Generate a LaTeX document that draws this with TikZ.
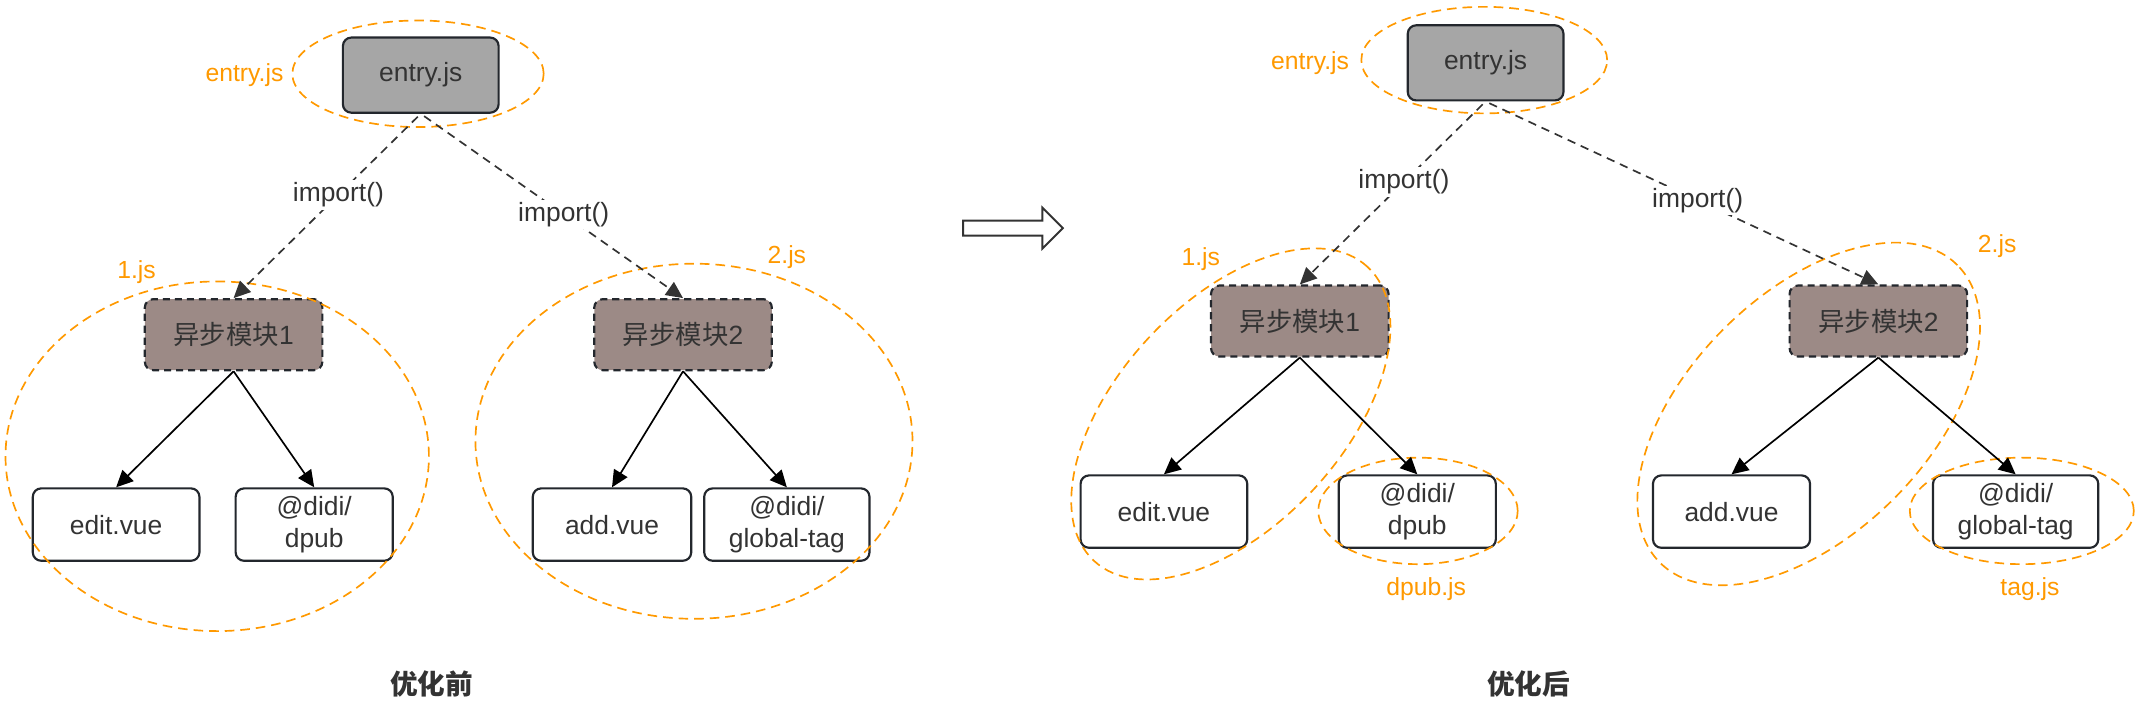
\documentclass[tikz,border=0pt]{standalone}
\usepackage{fontspec}
\setmainfont{Liberation Sans}
\newfontfamily\cjk{Noto Sans CJK SC}
\usetikzlibrary{arrows.meta}
\definecolor{jsorange}{HTML}{FF9900}
\definecolor{modfill}{HTML}{9C8A86}
\definecolor{entryfill}{HTML}{A6A6A6}
\definecolor{txt}{HTML}{333333}
\definecolor{edge}{HTML}{23272D}
\begin{document}
\begin{tikzpicture}[x=0.02cm,y=-0.02cm,>={Triangle[length=7pt,width=6.5pt]},
		box/.style={draw=edge,line width=0.9pt,rounded corners=3.5pt,text=txt,align=center,
			font=\fontsize{11}{13.5}\selectfont,inner sep=0pt,minimum height=1.06cm},
		entrybox/.style={box,fill=entryfill,minimum width=2.28cm,minimum height=1.1cm},
		modbox/.style={box,fill=modfill,dash pattern=on 3pt off 2pt,minimum width=2.6cm,minimum height=1.04cm},
		jsline/.style={draw=jsorange,line width=0.7pt,dash pattern=on 4pt off 2.5pt},
		jslabel/.style={text=jsorange,font=\fontsize{10.3}{12}\selectfont},
		imp/.style={->,draw=txt,line width=0.7pt,dash pattern=on 3.5pt off 2.5pt,shorten <=0.06cm},
		dep/.style={->,line width=0.7pt},
		lbl/.style={fill=white,text=txt,font=\fontsize{11}{13}\selectfont,inner sep=1pt},
		title/.style={font=\cjk\bfseries\fontsize{11.5}{14}\selectfont,text=txt}]
	\useasboundingbox (0,0) rectangle (1568,521);
	% before
	\node[entrybox] (entryA) at (308,55) {entry.js};
	\node[modbox] (modA1) at (171,245) {{\cjk 异步模块}1};
	\node[modbox] (modA2) at (500,245) {{\cjk 异步模块}2};
	\node[box,minimum width=2.44cm] (editA) at (85,384) {edit.vue};
	\node[box,minimum width=2.3cm] (dpubA) at (230,384) {@didi/\\dpub};
	\node[box,minimum width=2.32cm] (addA) at (448,384) {add.vue};
	\node[box,minimum width=2.42cm] (tagA) at (576,384) {@didi/\\global-tag};
	\draw[jsline] (306,54) ellipse [x radius=1.84cm, y radius=0.78cm];
	\draw[jsline] (159,334) ellipse [x radius=3.1cm, y radius=2.56cm];
	\draw[jsline] (508,323) ellipse [x radius=3.2cm, y radius=2.6cm];
	\node[jslabel] (entryjsA) at (179,55) {entry.js};
	\node[jslabel] (onejsA) at (100,199) {1.js};
	\node[jslabel] (twojsA) at (576,188) {2.js};
	\draw[imp] (entryA.south) -- node[lbl,pos=0.44] (impA1) {import()} (modA1.north);
	\draw[imp] (entryA.south) -- node[lbl,pos=0.545] (impA2) {import()} (modA2.north);
	\foreach \m/\t in {modA1/editA,modA1/dpubA,modA2/addA,modA2/tagA}
		\draw[dep] (\m.south) -- (\t.north);
	\node[title] (beforeT) at (316,501) {优化前};
	% arrow
	\draw[draw=txt,fill=white,line width=0.8pt] (705,161.5) -- (763,161.5) -- (763,152) -- (778,167)
		-- (763,182) -- (763,172.5) -- (705,172.5) -- cycle;
	% after
	\node[entrybox] (entryB) at (1087.5,46) {entry.js};
	\node[modbox] (modB1) at (951.5,235) {{\cjk 异步模块}1};
	\node[modbox] (modB2) at (1375,235) {{\cjk 异步模块}2};
	\node[box,minimum width=2.44cm] (editB) at (852,374.5) {edit.vue};
	\node[box,minimum width=2.3cm] (dpubB) at (1037.5,374.5) {@didi/\\dpub};
	\node[box,minimum width=2.3cm] (addB) at (1267.5,374.5) {add.vue};
	\node[box,minimum width=2.42cm] (tagB) at (1475.5,374.5) {@didi/\\global-tag};
	\draw[jsline] (1086.5,44) ellipse [x radius=1.8cm, y radius=0.78cm];
	\draw[jsline] (901,303) ellipse [x radius=2.94cm, y radius=1.64cm, rotate=47];
	\draw[jsline] (1324,303) ellipse [x radius=3.08cm, y radius=1.76cm, rotate=45];
	\draw[jsline] (1038,374) ellipse [x radius=1.46cm, y radius=0.78cm];
	\draw[jsline] (1480,374) ellipse [x radius=1.64cm, y radius=0.78cm];
	\node[jslabel] (entryjsB) at (959,46) {entry.js};
	\node[jslabel] (onejsB) at (879,190) {1.js};
	\node[jslabel] (twojsB) at (1462,180) {2.js};
	\node[jslabel] (dpubjsB) at (1044,431) {dpub.js};
	\node[jslabel] (tagjsB) at (1486,431) {tag.js};
	\draw[imp] (entryB.south) -- node[lbl,pos=0.44] (impB1) {import()} (modB1.north);
	\draw[imp] (entryB.south) -- node[lbl,pos=0.54] (impB2) {import()} (modB2.north);
	\foreach \m/\t in {modB1/editB,modB1/dpubB,modB2/addB,modB2/tagB}
		\draw[dep] (\m.south) -- (\t.north);
	\node[title] (afterT) at (1119,501) {优化后};
\end{tikzpicture}
\end{document}
